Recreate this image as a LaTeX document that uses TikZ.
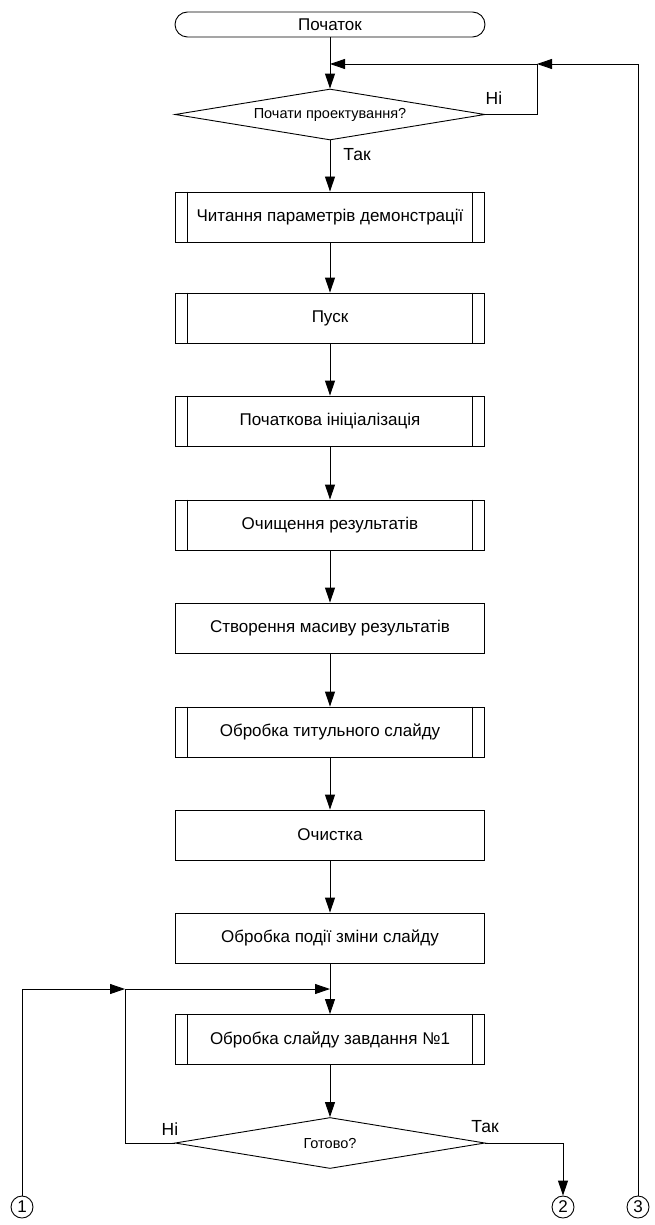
\documentclass[tikz,border=0pt]{standalone}
\usepackage{fontspec}
\setmainfont{Liberation Sans}
\usetikzlibrary{arrows.meta,shapes.geometric}
\begin{document}
\begin{tikzpicture}[x=1pt,y=-1pt,
  every path/.style={line width=0.9pt},
  arr/.style={-{Triangle[length=15pt,width=10pt]}},
  proc/.style={draw, rectangle, minimum width=309pt, minimum height=50pt,
    inner sep=0pt, font=\fontsize{17}{20}\selectfont},
  term/.style={draw, rectangle, rounded corners=12.5pt, minimum width=310pt,
    minimum height=25pt, inner sep=0pt, font=\fontsize{17}{20}\selectfont},
  decision/.style={draw, diamond, aspect=6, inner sep=0pt, minimum width=310pt,
    minimum height=51pt, font=\fontsize{14.5}{16}\selectfont},
  conn/.style={draw, circle, minimum size=22pt, inner sep=0pt,
    font=\fontsize{17}{19}\selectfont},
  lbl/.style={inner sep=0pt, font=\fontsize{17.5}{19}\selectfont}]
\useasboundingbox (0,0) rectangle (654,1225);

% main column
\node[term] (start) at (330,24.5) {Початок};
\node[decision] (dec1) at (330,114.5) {Почати проектування?};
\node[proc] (b1) at (330,217) {Читання параметрів демонстрації};
\node[proc] (b2) at (330,318) {Пуск};
\node[proc] (b3) at (330,421) {Початкова ініціалізація};
\node[proc] (b4) at (330,525) {Очищення результатів};
\node[proc] (b5) at (330,628) {Створення масиву результатів};
\node[proc] (b6) at (330,732) {Обробка титульного слайду};
\node[proc] (b7) at (330,835) {Очистка};
\node[proc] (b8) at (330,938) {Обробка події зміни слайду};
\node[proc] (b9) at (330,1039.5) {Обробка слайду завдання №1};
\node[decision] (dec2) at (330,1143) {Готово?};

% off-page connectors
\node[conn] (c1) at (22,1207) {1};
\node[conn] (c2) at (563,1207) {2};
\node[conn] (c3) at (638,1207) {3};

% side bars of the predefined processes
\foreach \n in {b1,b2,b3,b4,b6,b9} {
  \draw ([xshift=12.5pt]\n.north west) -- ([xshift=12.5pt]\n.south west);
  \draw ([xshift=-12.5pt]\n.north east) -- ([xshift=-12.5pt]\n.south east);
}

% junction points
\coordinate (m1) at (330,64);
\coordinate (m2) at (537,64);
\coordinate (j1) at (125,989);
\coordinate (j2) at (330,989);

% flow lines
\draw[arr] (start) -- (dec1);
\draw[arr] (m2) -- (m1);
\draw (dec1.east) -| (m2);
\draw[arr] (c3) |- (m2);
\draw[arr] (dec1) -- (b1);
\draw[arr] (b1) -- (b2);
\draw[arr] (b2) -- (b3);
\draw[arr] (b3) -- (b4);
\draw[arr] (b4) -- (b5);
\draw[arr] (b5) -- (b6);
\draw[arr] (b6) -- (b7);
\draw[arr] (b7) -- (b8);
\draw[arr] (b8) -- (b9);
\draw[arr] (b9) -- (dec2);
\draw[arr] (j1) -- (j2);
\draw (dec2.west) -| (j1);
\draw[arr] (c1) |- (j1);
\draw[arr] (dec2.east) -| (c2);

% branch labels
\node[lbl] (l1) at (494,98) {Ні};
\node[lbl] (l2) at (357,155) {Так};
\node[lbl] (l3) at (170,1129) {Ні};
\node[lbl] (l4) at (485,1127) {Так};
\end{tikzpicture}
\end{document}
